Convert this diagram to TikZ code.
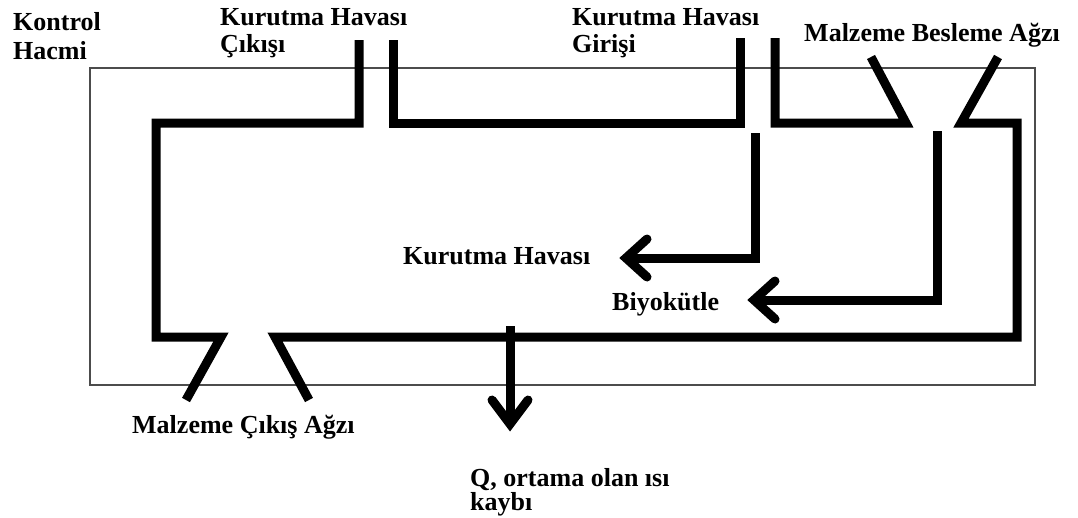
\documentclass[tikz,border=0pt]{standalone}
\usepackage{fontspec}
\setmainfont{Liberation Serif}
\begin{document}
\begin{tikzpicture}[x=1pt,y=-1pt,
  wall/.style={line width=9pt, line join=miter, line cap=butt},
  chev/.style={line width=9pt, line join=miter, line cap=round},
  cvbox/.style={line width=1.2pt, draw=black!70},
  lbl/.style={anchor=base west, inner sep=0pt, font=\fontsize{26}{30}\selectfont\bfseries}]
\useasboundingbox (0,0) rectangle (1078,517);
\fill[white] (0,0) rectangle (1078,517);
% control volume
\draw[cvbox] (90,68) rectangle (1035,385);
% coordinates
\coordinate (exL) at (359,40);
\coordinate (exR) at (393,40);
\coordinate (inL) at (740,38);
\coordinate (inR) at (775,38);
\coordinate (fdL) at (871,57);
\coordinate (fdR) at (998,57);
\coordinate (outL) at (186,400);
\coordinate (outR) at (309,400);
% chamber walls
\draw[wall] (exL) -- (359,123) -- (156,123) -- (156,337) -- (221,337) -- (outL);
\draw[wall] (exR) -- (393,123) -- (740,123) -- (inL);
\draw[wall] (inR) -- (775,123) -- (906,123) -- (fdL);
\draw[wall] (fdR) -- (961,123) -- (1017,123) -- (1017,337) -- (275,337) -- (outR);
% inner flows
\coordinate (kA) at (755.5,133);
\coordinate (kT) at (627,258);
\draw[wall] (kA) -- (755.5,258) -- (kT);
\draw[chev] (647,239) -- (626,258) -- (647,277);
\coordinate (bA) at (937,131);
\coordinate (bT) at (756,300);
\draw[wall] (bA) -- (937,300) -- (bT);
\draw[chev] (775,281) -- (754,300) -- (775,319);
% heat loss
\coordinate (qA) at (510,326);
\coordinate (qT) at (510,424);
\draw[wall] (qA) -- (qT);
\draw[chev] (492,400) -- (510,424) -- (528,400);
% labels
\node[lbl] (kh1) at (13,30) {Kontrol};
\node[lbl] (kh2) at (13,59) {Hacmi};
\node[lbl] (kc1) at (220,25) {Kurutma Havası};
\node[lbl] (kc2) at (220,52) {Çıkışı};
\node[lbl] (kg1) at (572,25) {Kurutma Havası};
\node[lbl] (kg2) at (572,52) {Girişi};
\node[lbl] (mb) at (804,41) {Malzeme Besleme Ağzı};
\node[lbl] (kin) at (403,264) {Kurutma Havası};
\node[lbl] (bio) at (612,310) {Biyokütle};
\node[lbl] (mc) at (132,433) {Malzeme Çıkış Ağzı};
\node[lbl] (q1) at (470,486) {Q, ortama olan ısı};
\node[lbl] (q2) at (470,510) {kaybı};
\end{tikzpicture}
\end{document}
